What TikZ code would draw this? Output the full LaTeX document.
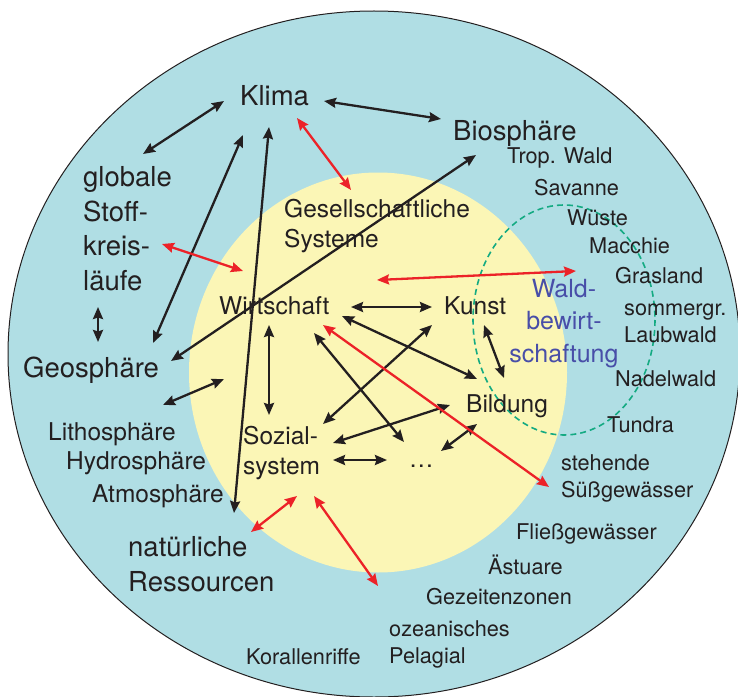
\documentclass[tikz,border=0pt]{standalone}
\usepackage{fontspec}
\setmainfont{TeX Gyre Heros}
\usetikzlibrary{arrows.meta}
\definecolor{seacol}{RGB}{176,222,228}
\definecolor{sandcol}{RGB}{251,246,182}
\definecolor{inkcol}{RGB}{35,31,32}
\definecolor{redcol}{RGB}{236,34,40}
\definecolor{greencol}{RGB}{20,170,130}
\definecolor{bluecol}{RGB}{72,78,168}
\begin{document}
\begin{tikzpicture}[x=1bp,y=-1bp,
  lbl/.style={inner sep=0pt, anchor=base west, text=inkcol},
  lblbig/.style={lbl, font=\fontsize{27.5bp}{34.5bp}\selectfont, align=left},
  lblmid/.style={lbl, font=\fontsize{24.5bp}{30bp}\selectfont, align=left},
  lblsml/.style={lbl, font=\fontsize{21.7bp}{26.5bp}\selectfont, align=left},
  hd/.tip={Stealth[length=12bp,width=10bp,inset=1.5bp]},
  blk/.style={draw=inkcol, line width=2.3bp, {hd}-{hd}},
  rd/.style={draw=redcol, line width=2.3bp, {hd}-{hd}}]
\useasboundingbox (0,0) rectangle (738,697);
% regions
\path[fill=seacol, draw=inkcol, line width=1bp] (374,354) ellipse [x radius=366, y radius=343];
\path[fill=sandcol] (378,372.5) ellipse [x radius=189, y radius=200];
\path[draw=greencol, line width=1.6bp, dash pattern=on 6bp off 4bp] (564,320) ellipse [x radius=91, y radius=115];
% outer labels (multi-line nodes: base = last line)
\node[lblbig] (klima) at (240,106) {Klima};
\node[lblbig] (bio) at (453,141) {Biosphäre};
\node[lblbig] (stoff) at (83,290) {globale\\Stoff-\\kreis-\\läufe};
\node[lblbig] (geo) at (23,377) {Geosphäre};
\node[lblbig] (ress) at (128,591) {natürliche\\Ressourcen};
\node[lblmid] (litho) at (48,440) {Lithosphäre};
\node[lblmid] (hydro) at (66,469) {Hydrosphäre};
\node[lblmid] (atmo) at (92,502) {Atmosphäre};
% society
\node[lblmid] (ges) at (284,247) {Gesellschaftliche\\Systeme};
\node[lblmid] (wirt) at (219,314) {Wirtschaft};
\node[lblmid] (kunst) at (444,314) {Kunst};
\node[lblmid] (bild) at (466,412) {Bildung};
\node[lblmid] (sozial) at (243,474) {Sozial-\\system};
\node[lblmid] (dots) at (409,467) {…};
\node[lbl, anchor=base, align=center, text=bluecol, font=\fontsize{25bp}{32.5bp}\selectfont] (wald) at (564,362) {Wald-\\bewirt-\\schaftung};
% biomes
\node[lblsml] (trop) at (507,163) {Trop. Wald};
\node[lblsml] (sav) at (534,195) {Savanne};
\node[lblsml] (wue) at (567,225) {Wüste};
\node[lblsml] (mac) at (589,253) {Macchie};
\node[lblsml] (gras) at (615,283) {Grasland};
\node[lblsml] (laub) at (624,342) {sommergr.\\Laubwald};
\node[lblsml] (nadel) at (615,386) {Nadelwald};
\node[lblsml] (tund) at (607,432) {Tundra};
\node[lblsml] (sued) at (561,497) {stehende\\Süßgewässer};
\node[lblsml] (fliess) at (516,539) {Fließgewässer};
\node[lblsml] (aest) at (488,574) {Ästuare};
\node[lblsml] (gez) at (426,604) {Gezeitenzonen};
\node[lblsml] (ozean) at (389,663) {ozeanisches\\Pelagial};
\node[lblsml] (koral) at (246,664) {Korallenriffe};
% connector ends
\coordinate (kS) at (224,101); \coordinate (sN) at (143,154);
\coordinate (kE) at (324,101); \coordinate (bW) at (441,119);
\coordinate (kG) at (243,135); \coordinate (gK) at (153,343);
\coordinate (kR) at (269,127); \coordinate (rK) at (234,513);
\coordinate (gB) at (171,361); \coordinate (bG) at (476,155);
\coordinate (sS) at (98,307);  \coordinate (gN) at (98,342);
\coordinate (gY) at (163,405); \coordinate (yG) at (224,379);
\coordinate (wK) at (351,307); \coordinate (kW) at (432,307);
\coordinate (wS) at (269,325); \coordinate (szW) at (269,415);
\coordinate (wB) at (342,316); \coordinate (bdW) at (477,379);
\coordinate (wD) at (314,333); \coordinate (dW) at (404,442);
\coordinate (kuS) at (432,325); \coordinate (szK) at (323,424);
\coordinate (kuB) at (484,325); \coordinate (bdK) at (504,378);
\coordinate (bdS) at (450,405); \coordinate (szB) at (333,443);
\coordinate (szD) at (333,460); \coordinate (dS) at (387,460);
\coordinate (bdD) at (477,424); \coordinate (dB) at (441,451);
\coordinate (kGs) at (297,118); \coordinate (gsK) at (351,190);
\coordinate (stY) at (162,244); \coordinate (ySt) at (243,271);
\coordinate (yW) at (377,280);  \coordinate (wY) at (576,271);
\coordinate (wSu) at (323,325); \coordinate (suW) at (549,487);
\coordinate (szR) at (297,496); \coordinate (rSz) at (251,532);
\coordinate (szO) at (314,496); \coordinate (oSz) at (378,586);
% black connectors
\draw[blk] (sN) -- (kS);
\draw[blk] (kE) -- (bW);
\draw[blk] (gK) -- (kG);
\draw[blk] (rK) -- (kR);
\draw[blk] (gB) -- (bG);
\draw[blk] (sS) -- (gN);
\draw[blk] (gY) -- (yG);
\draw[blk] (wK) -- (kW);
\draw[blk] (wS) -- (szW);
\draw[blk] (wB) -- (bdW);
\draw[blk] (wD) -- (dW);
\draw[blk] (kuS) -- (szK);
\draw[blk] (kuB) -- (bdK);
\draw[blk] (bdS) -- (szB);
\draw[blk] (szD) -- (dS);
\draw[blk] (bdD) -- (dB);
% red connectors
\draw[rd] (kGs) -- (gsK);
\draw[rd] (stY) -- (ySt);
\draw[rd] (yW) -- (wY);
\draw[rd] (wSu) -- (suW);
\draw[rd] (szR) -- (rSz);
\draw[rd] (szO) -- (oSz);
\end{tikzpicture}
\end{document}
